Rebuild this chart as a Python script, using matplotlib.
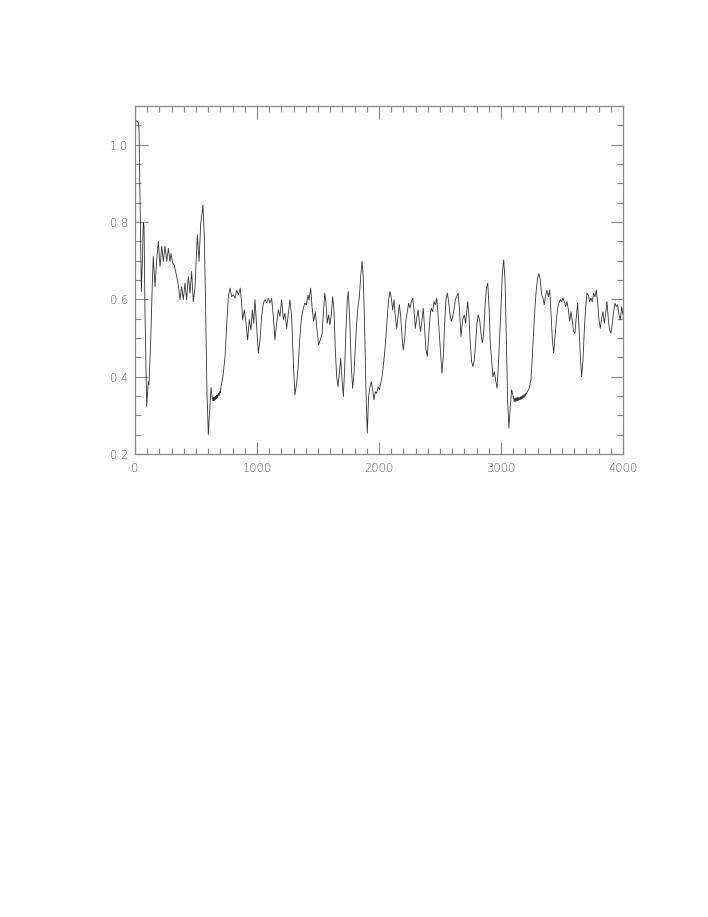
import matplotlib
matplotlib.use("Agg")
import matplotlib.pyplot as plt
from matplotlib.ticker import MultipleLocator

trace_a = [
    (0, 1.060), (10, 1.062), (25, 1.058), (33, 1.040), (42, 0.850), (52, 0.620), (60, 0.700),
    (68, 0.799), (74, 0.790), (82, 0.560), (96, 0.323), (109, 0.387), (115, 0.380), (128, 0.487),
    (142, 0.642), (150, 0.711), (164, 0.633), (178, 0.702), (191, 0.750), (205, 0.685),
    (219, 0.737), (232, 0.698), (246, 0.737), (260, 0.698), (273, 0.732), (287, 0.698),
    (295, 0.719), (309, 0.693), (322, 0.689), (342, 0.659), (355, 0.637), (369, 0.599),
    (382, 0.633), (396, 0.599), (410, 0.642), (423, 0.599), (437, 0.659), (451, 0.616),
    (464, 0.672), (478, 0.594), (492, 0.633), (511, 0.767), (525, 0.698), (538, 0.793),
    (557, 0.844), (568, 0.762), (579, 0.573), (590, 0.357), (601, 0.250), (612, 0.314),
    (623, 0.372), (630, 0.352), (634, 0.345), (638, 0.338), (642, 0.346), (645, 0.338),
    (649, 0.347), (653, 0.339), (657, 0.349), (661, 0.341), (665, 0.351), (669, 0.343),
    (673, 0.353), (677, 0.346), (683, 0.357), (689, 0.350), (695, 0.362), (700, 0.358),
    (705, 0.375),
]
trace_b = [
    (721, 0.400), (738, 0.452), (751, 0.530), (765, 0.607), (779, 0.629), (792, 0.607),
    (806, 0.612), (820, 0.603), (833, 0.624), (847, 0.612), (863, 0.629), (874, 0.590),
    (882, 0.547), (896, 0.573), (910, 0.538), (923, 0.495), (937, 0.547), (951, 0.521),
    (962, 0.573), (973, 0.538), (984, 0.599), (997, 0.530), (1011, 0.461), (1025, 0.495),
    (1038, 0.556), (1052, 0.590), (1066, 0.599), (1079, 0.590), (1093, 0.603), (1106, 0.590),
    (1120, 0.603), (1134, 0.556), (1147, 0.495), (1161, 0.538), (1175, 0.573), (1188, 0.556),
    (1202, 0.599), (1216, 0.547), (1229, 0.564), (1243, 0.525), (1257, 0.564), (1270, 0.599),
    (1284, 0.556), (1298, 0.435), (1311, 0.353), (1325, 0.383), (1336, 0.420),
]
trace_c = [
    (1350, 0.495), (1363, 0.547), (1377, 0.573), (1391, 0.590), (1404, 0.586), (1418, 0.611),
    (1426, 0.599), (1440, 0.629), (1451, 0.581), (1464, 0.543), (1478, 0.568), (1492, 0.521),
    (1505, 0.482), (1519, 0.495), (1533, 0.512), (1544, 0.564), (1555, 0.616), (1565, 0.594),
    (1576, 0.538), (1587, 0.560), (1598, 0.534), (1609, 0.560), (1620, 0.607), (1631, 0.573),
    (1642, 0.469), (1653, 0.400), (1664, 0.374), (1675, 0.409), (1686, 0.448), (1697, 0.392),
    (1708, 0.349), (1719, 0.426), (1729, 0.521), (1740, 0.599), (1748, 0.620), (1759, 0.555),
    (1773, 0.426), (1784, 0.370), (1795, 0.409), (1806, 0.478), (1817, 0.538), (1828, 0.581),
    (1839, 0.607), (1850, 0.659), (1861, 0.698), (1871, 0.659), (1882, 0.530), (1893, 0.366),
    (1904, 0.254), (1915, 0.349), (1926, 0.374), (1937, 0.387), (1948, 0.366), (1959, 0.340),
    (1970, 0.361), (1981, 0.357), (1992, 0.374),
]
trace_d = [
    (2003, 0.366), (2014, 0.383), (2025, 0.400), (2035, 0.426), (2046, 0.461), (2057, 0.504),
    (2068, 0.555), (2079, 0.599), (2090, 0.620), (2101, 0.603), (2112, 0.573), (2123, 0.599),
    (2134, 0.555), (2145, 0.525), (2156, 0.555), (2167, 0.586), (2178, 0.555), (2189, 0.504),
    (2199, 0.469), (2210, 0.495), (2221, 0.547), (2232, 0.568), (2243, 0.590), (2254, 0.577),
    (2265, 0.594), (2276, 0.603), (2287, 0.573), (2298, 0.525), (2309, 0.551), (2320, 0.573),
    (2330, 0.543), (2341, 0.517), (2352, 0.547), (2363, 0.577), (2374, 0.525), (2385, 0.469),
    (2396, 0.452), (2407, 0.504), (2418, 0.555), (2429, 0.577), (2440, 0.568), (2451, 0.594),
    (2462, 0.586), (2473, 0.603), (2483, 0.564), (2494, 0.512), (2505, 0.461), (2516, 0.409),
    (2527, 0.452), (2538, 0.538), (2549, 0.599), (2560, 0.616), (2571, 0.594), (2582, 0.560),
    (2593, 0.543), (2604, 0.555), (2615, 0.573), (2626, 0.599), (2637, 0.607), (2648, 0.616),
    (2658, 0.581), (2672, 0.504),
]
trace_e = [
    (2686, 0.547), (2699, 0.560), (2710, 0.538), (2727, 0.594), (2738, 0.555), (2748, 0.487),
    (2759, 0.439), (2770, 0.426), (2781, 0.443), (2792, 0.487), (2803, 0.538), (2814, 0.560),
    (2825, 0.547), (2836, 0.512), (2847, 0.487), (2858, 0.512), (2869, 0.581), (2880, 0.629),
    (2891, 0.642), (2902, 0.581), (2912, 0.487), (2923, 0.443), (2934, 0.400), (2945, 0.413),
    (2956, 0.392), (2967, 0.370), (2978, 0.426), (2989, 0.504), (3000, 0.581), (3011, 0.667),
    (3022, 0.702), (3033, 0.650), (3044, 0.495), (3054, 0.340), (3065, 0.267), (3076, 0.323),
    (3087, 0.366), (3098, 0.353), (3103, 0.343), (3109, 0.336), (3114, 0.344), (3118, 0.336),
    (3123, 0.345), (3127, 0.337), (3132, 0.346), (3136, 0.338), (3141, 0.347), (3145, 0.339),
    (3150, 0.346), (3155, 0.340), (3160, 0.348), (3164, 0.341), (3169, 0.349), (3173, 0.343),
    (3177, 0.351), (3182, 0.345), (3186, 0.353), (3191, 0.347), (3196, 0.355), (3200, 0.350),
    (3205, 0.358), (3210, 0.355), (3214, 0.360), (3218, 0.362), (3225, 0.366), (3232, 0.372),
    (3246, 0.392),
]
trace_f = [
    (3257, 0.452), (3268, 0.521), (3279, 0.581), (3289, 0.624), (3300, 0.655), (3311, 0.667),
    (3322, 0.650), (3333, 0.611), (3344, 0.603), (3355, 0.586), (3366, 0.611), (3377, 0.624),
    (3388, 0.607), (3399, 0.624), (3410, 0.564), (3421, 0.495), (3432, 0.461), (3443, 0.504),
    (3454, 0.547), (3464, 0.577), (3475, 0.590), (3486, 0.599), (3497, 0.594), (3508, 0.603),
    (3519, 0.594), (3530, 0.581), (3541, 0.594), (3552, 0.573), (3563, 0.543), (3574, 0.568),
    (3585, 0.543), (3595, 0.517), (3606, 0.512), (3617, 0.555), (3628, 0.590), (3639, 0.530),
    (3650, 0.452), (3661, 0.400), (3672, 0.443), (3683, 0.521), (3694, 0.581), (3705, 0.616),
    (3716, 0.611), (3727, 0.594), (3737, 0.603), (3748, 0.594), (3759, 0.616), (3770, 0.607),
    (3781, 0.624), (3792, 0.594), (3803, 0.547), (3814, 0.525), (3825, 0.551), (3836, 0.568),
    (3847, 0.538), (3858, 0.564), (3869, 0.594), (3880, 0.547), (3890, 0.521), (3901, 0.512),
    (3912, 0.538), (3923, 0.568), (3934, 0.590), (3945, 0.581), (3956, 0.586), (3967, 0.560),
    (3978, 0.547), (3989, 0.581), (4000, 0.560),
]

x_ticks = [0, 1000, 2000, 3000, 4000]
x_tick_labels = ["0", "1000", "2000", "3000", "4000"]
y_ticks = [0.2, 0.4, 0.6, 0.8, 1.0]
y_tick_labels = ["0.2", "0.4", "0.6", "0.8", "1.0"]

series = trace_a + trace_b + trace_c + trace_d + trace_e + trace_f
x_vals = [p[0] for p in series]
y_vals = [p[1] for p in series]

fig = plt.figure(figsize=(7.08, 9.17), dpi=100)
ax = fig.add_axes([135 / 708, 1 - 454 / 917, (623 - 135) / 708, (454 - 106) / 917])

ax.plot(x_vals, y_vals, color="#333333", linewidth=0.6)

ax.set_xlim(0, 4000)
ax.set_ylim(0.2, 1.1)
ax.set_xticks(x_ticks)
ax.set_xticklabels(x_tick_labels)
ax.set_yticks(y_ticks)
ax.set_yticklabels(y_tick_labels)
ax.xaxis.set_minor_locator(MultipleLocator(100))
ax.yaxis.set_minor_locator(MultipleLocator(0.05))

axis_col = "#888888"
for s in ax.spines.values():
    s.set_color(axis_col)
    s.set_linewidth(0.9)
ax.tick_params(which="both", direction="in", top=True, right=True,
               color=axis_col, width=0.8, labelcolor="#666666", labelsize=8.3)
ax.tick_params(which="major", length=9)
ax.tick_params(which="minor", length=4)
ax.tick_params(axis="x", which="major", pad=6)
ax.tick_params(axis="y", which="major", pad=5)
for lbl in ax.get_xticklabels() + ax.get_yticklabels():
    lbl.set_fontweight("light")

fig.savefig("out.png", dpi=100)
